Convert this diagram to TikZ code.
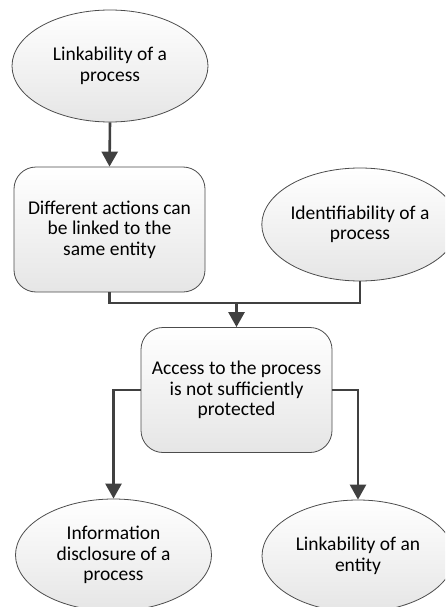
\documentclass[tikz,border=0pt]{standalone}
\usepackage{fontspec}
\setmainfont{Carlito}
\usetikzlibrary{arrows.meta,shapes.geometric}
\tikzset{
  x=1pt, y=-1pt,
  shapebase/.style={draw=black!70, line width=0.8pt, align=center,
    font=\fontsize{19.5}{20.5}\selectfont, inner sep=0pt,
    top color=white, bottom color=black!10},
  oval/.style={shapebase, ellipse, minimum width=196pt, minimum height=112pt},
  stepbox/.style={shapebase, rectangle, rounded corners=22pt,
    minimum width=191pt, minimum height=125pt},
  link/.style={draw=black!75, line width=2.6pt},
  arrowlink/.style={link, -{Triangle[width=16pt,length=15pt]}},
}
\begin{document}
\begin{tikzpicture}
\useasboundingbox (0,0) rectangle (445,607);
\clip (0,0) rectangle (445,607);
% nodes
\node[oval] (lp) at (110,66) {Linkability of a\\process};
\node[stepbox] (da) at (109.5,229.5) {Different actions can\\be linked to the\\same entity};
\node[oval, minimum width=194pt, minimum height=113pt] (ip) at (360,224.5) {Identifiability of a\\process};
\node[stepbox] (ac) at (236.5,390) {Access to the process\\is not sufficiently\\protected};
\node[oval] (id) at (113.5,555) {Information\\disclosure of a\\process};
\node[oval, minimum width=192pt] (le) at (358,556) {Linkability of an\\entity};
\coordinate (join) at (236.5,303);
% connectors
\draw[arrowlink] (lp.south) -- (da.north);
\draw[link] (da.south) |- (join);
\draw[link] (ip.south) |- (join);
\draw[arrowlink] (join) -- (ac.north);
\draw[arrowlink] (ac.west) -| (id.north);
\draw[arrowlink] (ac.east) -| (le.north);
\end{tikzpicture}
\end{document}
